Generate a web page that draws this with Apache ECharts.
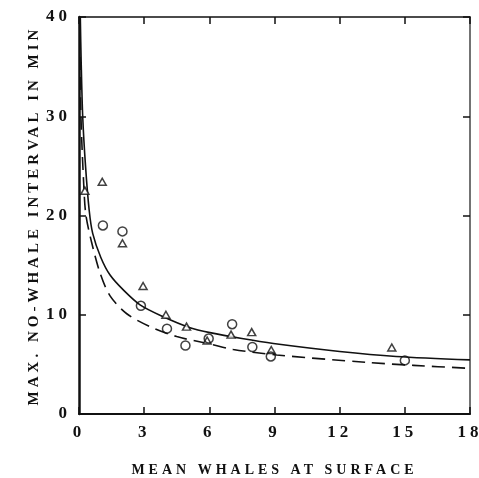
<!DOCTYPE html>
<html>
<head>
<meta charset="utf-8">
<script src="https://cdn.jsdelivr.net/npm/echarts@6/dist/echarts.min.js"></script>
<style>
    html, body { margin: 0; padding: 0; background: #fff; }
    #chart { width: 479px; height: 478px; }
</style>
</head>
<body>
<div id="chart"></div>
<script>
// tick labels
var xTicks = [0, 3, 6, 9, 12, 15, 18];
var yTicks = [0, 10, 20, 30, 40];

// observed points, triangles and circles
var triPoints = [
    [0.27, 22.5], [1.07, 23.4], [2.0, 17.2], [2.95, 12.9], [4.0, 10.0],
    [4.95, 8.8], [5.9, 7.4], [7.0, 8.0], [7.95, 8.25], [8.85, 6.45], [14.4, 6.7]
];
var circPoints = [
    [1.1, 19.0], [2.0, 18.4], [2.85, 10.9], [4.05, 8.6], [4.9, 6.9],
    [5.97, 7.6], [7.05, 9.05], [7.98, 6.75], [8.83, 5.8], [15.0, 5.4]
];

// fitted curves
var solidCurve = [
    [0.06, 40], [0.1, 35.5], [0.17, 30], [0.3, 25], [0.47, 20.5], [0.63, 18.2],
    [1.0, 15.8], [1.43, 14.0], [2.04, 12.5], [2.81, 11.0], [3.88, 9.8], [5.11, 8.7],
    [6.03, 8.2], [7.5, 7.6], [8.95, 7.1], [12, 6.3], [14.6, 5.8], [18, 5.45]
];
var dashedCurve = [
    [0.03, 40], [0.09, 30], [0.23, 22.6], [0.32, 20], [0.58, 17.3], [0.97, 14.2],
    [1.43, 11.9], [2.2, 10.1], [3.27, 8.8], [4.5, 7.8], [6.03, 7.05], [7.1, 6.5],
    [9.1, 5.95], [13.25, 5.2], [15.4, 4.9], [18, 4.6]
];

var font = 'Liberation Serif';
var ink = '#111';

var chart = echarts.init(document.getElementById('chart'));

// shared bits for the mirrored frame axes
var tick = { show: true, inside: true, length: 7, lineStyle: { color: ink, width: 1.5 } };

var option = {
    animation: false,
    backgroundColor: '#fff',
    // keep the plot box fixed, don't let the axis names squeeze it
    grid: { left: 79, right: 9, top: 17, bottom: 64, outerBoundsMode: 'none' },
    xAxis: [
        {
            type: 'value',
            min: xTicks[0],
            max: xTicks[xTicks.length - 1],
            interval: 3,
            name: 'MEAN WHALES AT SURFACE',
            nameLocation: 'middle',
            nameGap: 49,
            nameTextStyle: { fontFamily: font, fontSize: 14, fontWeight: 'bold', color: ink },
            axisLine: { show: true, onZero: false, lineStyle: { color: ink, width: 2 } },
            axisTick: tick,
            axisLabel: {
                margin: 10, fontFamily: font, fontSize: 17, fontWeight: 'bold', color: ink,
                formatter: function (v) { return xTicks.indexOf(v) >= 0 ? String(v) : ''; }
            },
            splitLine: { show: false }
        },
        {
            // top frame, same scale
            type: 'value',
            position: 'top',
            min: 0, max: 18, interval: 3,
            axisLine: { show: true, onZero: false, lineStyle: { color: ink, width: 1.5 } },
            axisTick: tick,
            axisLabel: { show: false },
            splitLine: { show: false }
        }
    ],
    yAxis: [
        {
            type: 'value',
            min: yTicks[0],
            max: yTicks[yTicks.length - 1],
            interval: 10,
            name: 'MAX. NO-WHALE INTERVAL IN MIN',
            nameLocation: 'middle',
            nameGap: 37,
            nameTextStyle: { fontFamily: font, fontSize: 15, fontWeight: 'bold', color: ink },
            axisLine: { show: true, onZero: false, lineStyle: { color: ink, width: 2.5 } },
            axisTick: tick,
            axisLabel: { margin: 8, fontFamily: font, fontSize: 17, fontWeight: 'bold', color: ink },
            splitLine: { show: false }
        },
        {
            // right frame, same scale
            type: 'value',
            position: 'right',
            min: 0, max: 40, interval: 10,
            axisLine: { show: true, onZero: false, lineStyle: { color: '#444', width: 1.5 } },
            axisTick: tick,
            axisLabel: { show: false },
            splitLine: { show: false }
        }
    ],
    series: [
        {
            type: 'line',
            data: solidCurve,
            showSymbol: false,
            smooth: 0.3,
            lineStyle: { color: ink, width: 1.6 },
            z: 2
        },
        {
            // drawn on the frame axes so they get a series too
            type: 'line',
            xAxisIndex: 1,
            yAxisIndex: 1,
            data: dashedCurve,
            showSymbol: false,
            smooth: 0.3,
            lineStyle: { color: ink, width: 1.6, type: [13, 7] },
            z: 2
        },
        {
            type: 'scatter',
            data: triPoints,
            symbol: 'triangle',
            symbolSize: [8, 7],
            itemStyle: { color: '#fff', borderColor: ink, borderWidth: 1.5 },
            z: 3
        },
        {
            type: 'scatter',
            data: circPoints,
            symbol: 'circle',
            symbolSize: 9,
            itemStyle: { color: 'rgba(255,255,255,0)', borderColor: ink, borderWidth: 1.5 },
            z: 3
        }
    ]
};

chart.setOption(option);

// the scanned figure has wide, typewriter-like spacing;
// the canvas only exists after the first paint, so set it now and redraw
var canvases = document.querySelectorAll('#chart canvas');
for (var i = 0; i < canvases.length; i++) {
    canvases[i].getContext('2d').letterSpacing = '4px';
}
chart.setOption(option, true);
</script>
</body>
</html>
